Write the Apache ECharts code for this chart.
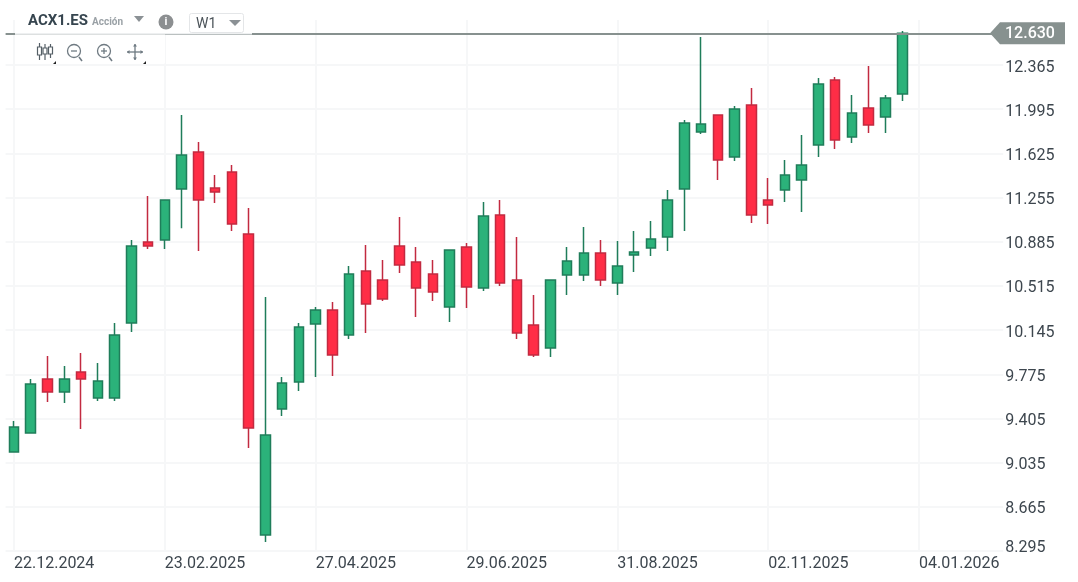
<!DOCTYPE html>
<html><head><meta charset="utf-8">
<style>html,body{margin:0;padding:0;background:#fff}#c{width:1078px;height:582px}</style>
<script src="https://cdn.jsdelivr.net/npm/echarts@6/dist/echarts.min.js"></script>
</head><body><div id="c"></div>
<script>
const dates = ['22.12.2024','29.12.2024','05.01.2025','12.01.2025','19.01.2025','26.01.2025','02.02.2025','09.02.2025','16.02.2025',
'23.02.2025','02.03.2025','09.03.2025','16.03.2025','23.03.2025','30.03.2025','06.04.2025','13.04.2025','20.04.2025',
'27.04.2025','04.05.2025','11.05.2025','18.05.2025','25.05.2025','01.06.2025','08.06.2025','15.06.2025','22.06.2025',
'29.06.2025','06.07.2025','13.07.2025','20.07.2025','27.07.2025','03.08.2025','10.08.2025','17.08.2025','24.08.2025',
'31.08.2025','07.09.2025','14.09.2025','21.09.2025','28.09.2025','05.10.2025','12.10.2025','19.10.2025','26.10.2025',
'02.11.2025','09.11.2025','16.11.2025','23.11.2025','30.11.2025','07.12.2025','14.12.2025','21.12.2025','28.12.2025',
'04.01.2026','11.01.2026','18.01.2026','25.01.2026','01.02.2026','08.02.2026'];
const opens = [9.124,9.283,9.735,9.626,9.794,9.576,9.576,10.204,10.883,10.899,
11.327,11.636,11.335,11.469,10.950,8.429,9.484,9.710,10.196,10.313,
10.103,10.640,10.564,10.849,10.715,10.615,10.338,10.841,10.497,11.109,
10.564,10.188,9.995,10.606,10.606,10.790,10.539,10.774,10.832,10.925,
11.327,11.804,11.946,11.595,12.030,11.234,11.318,11.402,11.695,12.239,
11.762,12.005,11.929,12.122];
const closes = [9.333,9.693,9.626,9.735,9.735,9.718,10.103,10.849,10.849,11.234,
11.611,11.234,11.301,11.033,9.325,9.266,9.702,10.171,10.313,9.936,
10.615,10.363,10.405,10.690,10.497,10.464,10.815,10.506,11.100,10.539,
10.120,9.936,10.564,10.723,10.790,10.564,10.682,10.799,10.908,11.234,
11.879,11.871,11.569,11.997,11.109,11.193,11.444,11.527,12.206,11.737,
11.963,11.863,12.089,12.630];
const lows = [9.124,9.283,9.543,9.534,9.316,9.551,9.551,10.129,10.824,10.824,
10.999,10.807,11.209,10.975,9.157,8.370,9.425,9.635,9.752,9.760,
10.070,10.120,10.388,10.623,10.255,10.388,10.213,10.330,10.472,10.514,
10.070,9.919,9.919,10.439,10.556,10.514,10.439,10.631,10.765,10.807,
10.975,11.787,11.402,11.561,11.042,11.033,11.218,11.134,11.595,11.662,
11.712,11.796,11.796,12.063];
const highs = [9.384,9.735,9.928,9.844,9.953,9.869,10.204,10.899,11.268,11.234,
11.946,11.720,11.444,11.527,11.167,10.422,9.752,10.204,10.338,10.380,
10.682,10.857,10.732,11.092,10.841,10.732,10.815,10.874,11.218,11.234,
10.925,10.439,10.564,10.841,11.008,10.899,10.891,10.975,11.058,11.318,
11.904,12.600,11.946,12.022,12.172,11.419,11.569,11.779,12.256,12.265,
12.114,12.357,12.114,12.650];
const yTicks = [8.295,8.665,9.035,9.405,9.775,10.145,10.515,10.885,11.255,11.625,11.995,12.365];
const lastPrice = 12.630;

const FONT = 'Roboto';
const GRID = '#f6f7f8';
const ICON = '#6f7a82';
const candles = opens.map((o,i)=>[o,closes[i],lows[i],highs[i]]);
const chart = echarts.init(document.getElementById('c'),null,{renderer:'canvas'});
chart.setOption({
  animation:false,
  grid:{left:5.6,top:20,width:1005.6,height:531,containLabel:false},
  xAxis:{type:'category',data:dates,boundaryGap:true,
    axisLine:{show:false},axisTick:{show:false},
    axisLabel:{interval:8,align:'left',margin:5,fontFamily:FONT,fontSize:16,color:'#3d464e',showMinLabel:true,hideOverlap:false},
    splitLine:{show:true,interval:8,alignWithLabel:true,lineStyle:{color:GRID,width:2}}},
  yAxis:{type:'value',position:'right',min:8.295,max:12.742,scale:true,
    axisLine:{show:false},axisTick:{show:false,customValues:yTicks},
    axisLabel:{customValues:yTicks,margin:-8,fontFamily:FONT,fontSize:16,color:'#3d464e',
      backgroundColor:'#fff',padding:[5,12,0,2],align:'left',
      showMinLabel:true,showMaxLabel:true,
      formatter:v=>v===yTicks[0]?'{m|'+v.toFixed(3)+'}':v.toFixed(3),
      rich:{m:{fontFamily:FONT,fontSize:16,color:'#3d464e',padding:[0,0,12,0]}}},
    splitLine:{show:true,lineStyle:{color:GRID,width:2}}},
  series:[{type:'candlestick',data:candles,barWidth:10,clip:false,
    itemStyle:{color:'#2bb27a',color0:'#ff2d46',borderColor:'#1f7d5a',borderColor0:'#c22a40',borderWidth:1.5},
    markLine:{silent:true,symbol:'none',animation:false,label:{show:false},
      lineStyle:{color:'#87918f',width:2,type:'solid'},data:[{yAxis:lastPrice}]}}]
});
const tagY = chart.convertToPixel({yAxisIndex:0},lastPrice);
const line=(x1,y1,x2,y2,w,c)=>({type:'line',z:102,shape:{x1,y1,x2,y2},style:{stroke:c||ICON,lineWidth:w||1.3}});
const circ=(cx,cy,r)=>({type:'circle',z:102,shape:{cx,cy,r},style:{fill:'#fff',stroke:ICON,lineWidth:1.3}});
const tri=(pts,fill)=>({type:'polygon',z:102,shape:{points:pts},style:{fill}});
const rect=(x,y,w,h,fill,stroke)=>({type:'rect',z:101,shape:{x,y,width:w,height:h,r:stroke?2:0},style:{fill,stroke:stroke||null,lineWidth:1}});
const txt=(x,y,text,font,fill)=>({type:'text',z:106,x,y,style:{text,font,fill,textVerticalAlign:'middle'}});
const candleIcon=(x,t,a,b,bot)=>[line(x,t,x,bot,1.2,'#555f66'),{type:'rect',z:103,shape:{x:x-2,y:a,width:4,height:b-a},style:{fill:'#fff',stroke:'#555f66',lineWidth:1.2}}];
chart.setOption({graphic:{elements:[
  rect(15,0,237,33,'#fff'),
  rect(15,33,237,1.5,'#eef0f1'),
  rect(15,34.5,150,29,'#fff'),
  // header
  txt(28,21,'ACX1.ES','bold 15px '+FONT,'#36454f'),
  txt(92,22,'Acción','bold 10px '+FONT,'#9aa1a6'),
  tri([[134,16],[144,16],[139,22]],'#8b9195'),
  {type:'circle',z:102,shape:{cx:166,cy:22,r:7.5},style:{fill:'#8c8f91'}},
  txt(164.4,22,'i','bold 11px '+FONT,'#fff'),
  rect(189.5,13.5,54,19,'#fff','#e4e6e8'),
  txt(196,24,'W1','14px '+FONT,'#4a5258'),
  tri([[229,20],[241,20],[235,26]],'#8b9195'),
  // tools
  ...candleIcon(39.5,43,47,55,60),...candleIcon(45,44,48,54,60),...candleIcon(50.5,44,47,54,58),
  tri([[53,64],[56,61],[56,64]],'#222'),
  line(79,57,82,61,1.5),circ(74,51,6.5),line(71,51,77,51),
  line(109,57,112,61,1.5),circ(104,51,6.5),line(101,51,107,51),line(104,48,104,54),
  line(127,52,143,52),line(135,44,135,60),
  tri([[127,52],[129.5,50],[129.5,54]],ICON),tri([[143,52],[140.5,50],[140.5,54]],ICON),
  tri([[135,44],[133,46.5],[137,46.5]],ICON),tri([[135,60],[133,57.5],[137,57.5]],ICON),
  tri([[143,64],[146,61],[146,64]],'#222'),
  // price tag, placed on the last price through the value axis
  {type:'polygon',z:104,shape:{points:[[990,tagY],[1000,tagY-11],[1065,tagY-11],[1065,tagY+11],[1000,tagY+11]]},style:{fill:'#87918f'}},
  txt(1005,tagY+1,lastPrice.toFixed(3),'500 16px '+FONT,'#fff')
]}});
</script></body></html>
